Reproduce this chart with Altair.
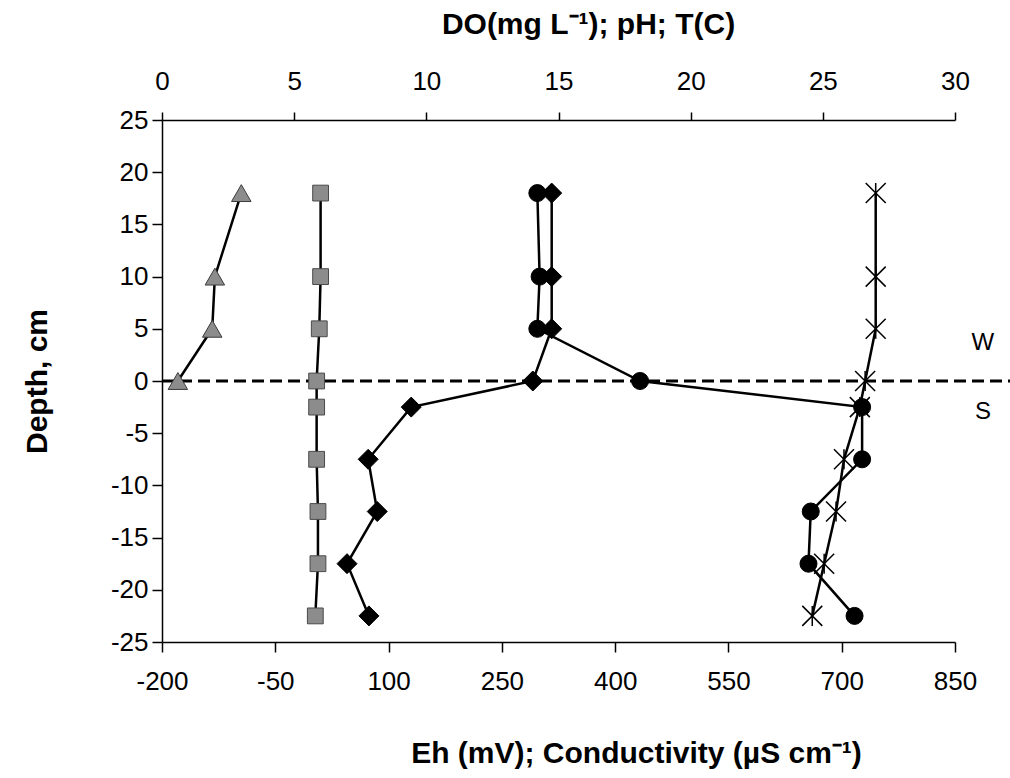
import altair as alt
import pandas as pd

# ---- data ----
depth_all = [18, 10, 5, 0, -2.5, -7.5, -12.5, -17.5, -22.5]
depth_water = [18, 10, 5, 0]

do_vals = [3.0, 2.0, 1.9, 0.6]                                        # triangles (top axis)
ph_vals = [6.0, 6.0, 5.95, 5.85, 5.85, 5.85, 5.9, 5.9, 5.8]            # squares (top axis)
temp_vals = [27.0, 27.0, 27.0, 26.6, 26.4, 25.8, 25.5, 25.05, 24.6]    # stars (top axis)
eh_vals = [316, 316, 316, 291, 130, 73, 85, 45, 74]                    # diamonds (bottom axis)
cond_vals = [297, 300, 297, 433, 727, 727, 659, 656, 717]              # circles (bottom axis)

top_ticks = [0, 5, 10, 15, 20, 25, 30]
bottom_ticks = [-200, -50, 100, 250, 400, 550, 700, 850]
depth_ticks = [-25, -20, -15, -10, -5, 0, 5, 10, 15, 20, 25]

zone_labels = ["W", "S"]
zone_depths = [3.6, -3.0]

df_do = pd.DataFrame({"depth": depth_water, "v": do_vals})
df_ph = pd.DataFrame({"depth": depth_all, "v": ph_vals})
df_t = pd.DataFrame({"depth": depth_all, "v": temp_vals})
df_eh = pd.DataFrame({"depth": depth_all, "v": eh_vals})
df_c = pd.DataFrame({"depth": depth_all, "v": cond_vals})
df_zone = pd.DataFrame({"depth": zone_depths, "label": zone_labels})
df_iface = pd.DataFrame({"depth": [0]})

W, H = 793, 522
plain = "'' + datum.value"

y_scale = alt.Scale(domain=[-25, 25], nice=False, zero=False)
y_axis = alt.Axis(values=depth_ticks, orient="left", tickSize=10, labelPadding=4,
                  labelExpr=plain,
                  title="Depth, cm", titleX=-125, titleY=H / 2, titleAngle=-90,
                  titleAlign="center", titleBaseline="middle", labelFlush=False)

bx_scale = alt.Scale(domain=[-200, 850], nice=False, zero=False)
bx_axis = alt.Axis(values=bottom_ticks, orient="bottom", tickSize=10, labelPadding=16,
                   labelExpr=plain,
                   title="Eh (mV); Conductivity (µS cm⁻¹)", titleX=474, titleY=111,
                   titleAlign="center", titleBaseline="middle", labelFlush=False)

tx_scale = alt.Scale(domain=[0, 30], nice=False, zero=False)
tx_axis = alt.Axis(values=top_ticks, orient="top", tickSize=8, labelPadding=18,
                   labelExpr=plain,
                   title="DO(mg L⁻¹); pH; T(C)", titleX=426, titleY=-96,
                   titleAlign="center", titleBaseline="middle", labelFlush=False)


def Y():
    return alt.Y("depth:Q", scale=y_scale, axis=y_axis)


def BX():
    return alt.X("v:Q", scale=bx_scale, axis=bx_axis)


def TX():
    return alt.X("v:Q", scale=tx_scale, axis=tx_axis)


def series(df, xfun, point_kwargs):
    line = alt.Chart(df).mark_line(color="black", strokeWidth=2.5).encode(
        x=xfun(), y=Y(), order="depth:Q")
    pts = alt.Chart(df).mark_point(opacity=1, fillOpacity=1, **point_kwargs).encode(
        x=xfun(), y=Y())
    return [line, pts]


iface = alt.Chart(df_iface).mark_rule(color="black", strokeWidth=3, strokeDash=[12, 6]).encode(
    x=alt.XDatum(-200, scale=bx_scale, axis=bx_axis, type="quantitative"),
    x2=alt.X2Datum(925),
    y=Y(),
)

zones = alt.Chart(df_zone).mark_text(font="Liberation Sans", fontSize=24, color="black",
                                     align="center", baseline="middle").encode(
    x=alt.XDatum(887, scale=bx_scale, axis=bx_axis, type="quantitative"),
    y=Y(),
    text="label:N",
)

bottom_layers = [iface]
bottom_layers += series(df_eh, BX, dict(shape="diamond", fill="black", stroke="black",
                                         strokeWidth=1, size=400))
bottom_layers += series(df_c, BX, dict(shape="circle", fill="black", stroke="black",
                                        strokeWidth=1, size=290))
bottom_layers += [zones]

star = "M-1,-1L1,1M-1,1L1,-1M0,-1L0,1"
top_layers = []
top_layers += series(df_do, TX, dict(shape="triangle-up", fill="#8c8c8c", stroke="#3c3c3c",
                                      strokeWidth=1, size=380))
top_layers += series(df_ph, TX, dict(shape="square", fill="#8c8c8c", stroke="#4a4a4a",
                                      strokeWidth=1, size=250))
top_layers += series(df_t, TX, dict(shape=star, filled=False, stroke="black",
                                     strokeWidth=1.5, size=400))

chart = alt.layer(
    alt.layer(*bottom_layers),
    alt.layer(*top_layers),
).resolve_scale(x="independent").properties(
    width=W, height=H,
    padding={"left": 162, "top": 120, "right": 55, "bottom": 136},
    autosize=alt.AutoSizeParams(type="none"),
).configure_view(stroke=None).configure_axis(
    grid=False, domainColor="black", domainWidth=1.5, tickColor="black", tickWidth=1.5,
    labelColor="black", labelFont="Liberation Sans", labelFontSize=26,
    titleColor="black", titleFont="Liberation Sans", titleFontSize=30, titleFontWeight="bold",
)

chart.save("out.html", embed_options={"renderer": "svg", "actions": False})
